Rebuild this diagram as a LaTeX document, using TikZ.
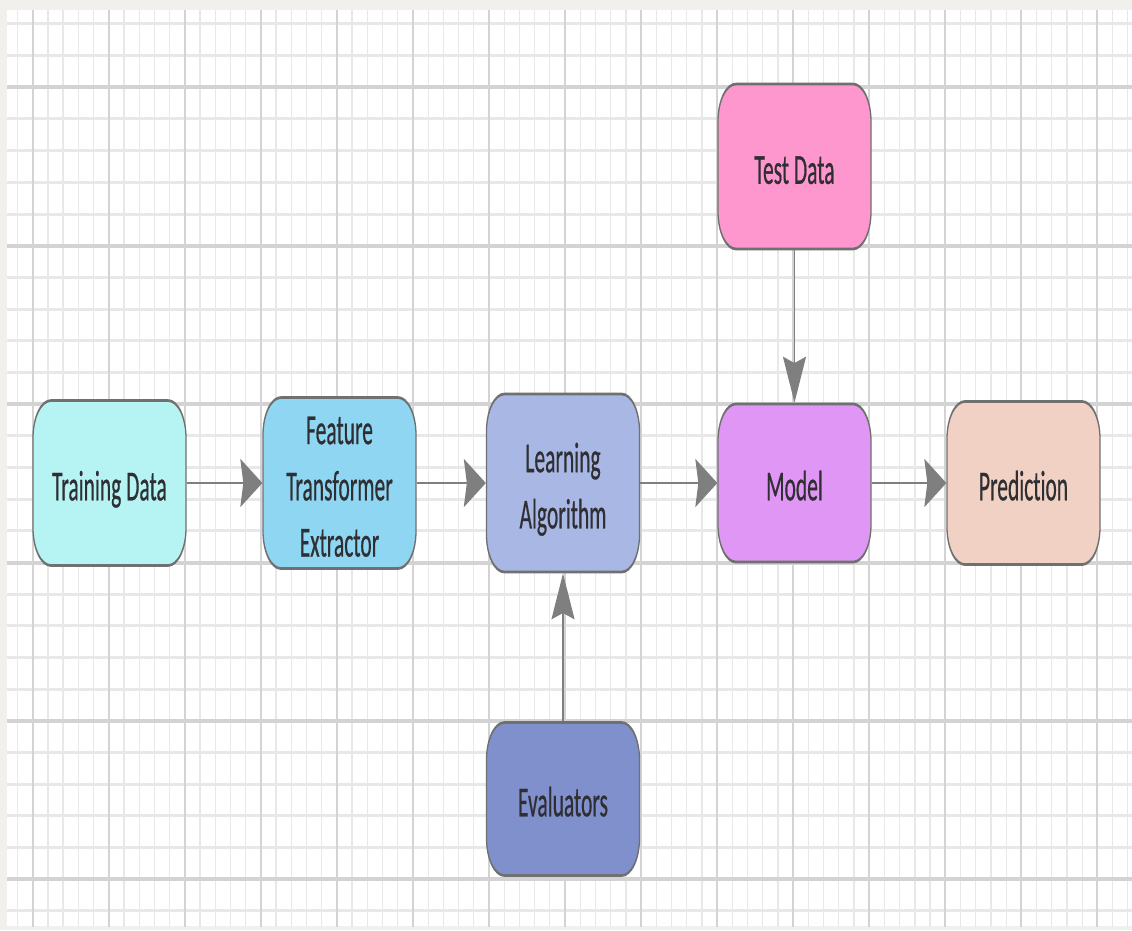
\documentclass[tikz,border=0pt]{standalone}
\usepackage{fontspec}
\setmainfont{Carlito}[FakeStretch=1.05, FakeBold=0.7, Ligatures=NoCommon]
\usetikzlibrary{arrows.meta}

\definecolor{paper}{HTML}{F2F0EC}
\definecolor{gridminor}{HTML}{E8E8E8}
\definecolor{gridmajor}{HTML}{D3D3D3}
\definecolor{boxline}{HTML}{707070}
\definecolor{arrowgray}{HTML}{7F7F7F}
\definecolor{textgray}{HTML}{2E2E33}
\definecolor{trainfill}{HTML}{B6F4F4}
\definecolor{featfill}{HTML}{8ED6F1}
\definecolor{learnfill}{HTML}{A8B7E3}
\definecolor{modelfill}{HTML}{E096F4}
\definecolor{predfill}{HTML}{F0D1C4}
\definecolor{evalfill}{HTML}{7F90CC}
\definecolor{testfill}{HTML}{FE97CE}

% label text: centred lines, set a little below the middle of the box
% (the box keeps its natural height and depth, only the ink moves down)
\newcommand{\boxlines}[1]{\raisebox{-2.9pt}[\height][\depth]{\begin{tabular}{@{}c@{}}#1\end{tabular}}}

\tikzset{
  vminor/.style={draw=gridminor, line width=1.3pt},
  vmajor/.style={draw=gridmajor, line width=2pt},
  hminor/.style={draw=gridminor, line width=3pt},
  hmajor/.style={draw=gridmajor, line width=4pt},
  box/.style={rectangle, rounded corners=18pt, draw=boxline, line width=1.3pt,
    minimum width=153pt, inner sep=0pt,
    font=\fontsize{20.5}{27}\selectfont, text=textgray},
  flow/.style={draw=arrowgray, line width=1.4pt,
    -{Stealth[length=22pt, width=23pt, inset=3pt]}},
}

\begin{document}
\begin{tikzpicture}[x=1pt, y=-1pt]
  \useasboundingbox (0,0) rectangle (1132,930);
  % sheet and its margin
  \fill[paper] (0,0) rectangle (1132,930);
  \fill[white] (7,10) rectangle (1132,926);

  % graph paper
  \begin{scope}
    \clip (7,10) rectangle (1132,926);
    \foreach \k in {-2,...,72} {
      \pgfmathsetmacro\gx{32.7+15.21*\k}
      \draw[vminor] (\gx,0) -- (\gx,930);
    }
    \foreach \k in {-3,...,26} {
      \pgfmathsetmacro\gy{87.3+31.68*\k}
      \draw[hminor] (0,\gy) -- (1132,\gy);
    }
    \foreach \k in {0,...,14} {
      \pgfmathsetmacro\gx{32.7+76.05*\k}
      \draw[vmajor] (\gx,0) -- (\gx,930);
    }
    \foreach \k in {0,...,5} {
      \pgfmathsetmacro\gy{87.3+158.4*\k}
      \draw[hmajor] (0,\gy) -- (1132,\gy);
    }
  \end{scope}

  % flow chart, drawn in a vertically stretched frame
  \begin{scope}[transform canvas={yscale=2.083}, y=-0.48008pt]
    \node[box, fill=trainfill, minimum height=79.2pt] (train) at (109.5,483) {\boxlines{Training Data}};
    \node[box, fill=featfill, minimum height=82.1pt] (feat) at (339.5,483) {\boxlines{Feature\\Transformer\\Extractor}};
    \node[box, fill=learnfill, minimum height=85.5pt] (learn) at (563,483) {\boxlines{Learning\\Algorithm}};
    \node[box, fill=modelfill, minimum height=75.9pt] (model) at (794.5,483) {\boxlines{Model}};
    \node[box, fill=predfill, minimum height=78.3pt] (pred) at (1023.5,483) {\boxlines{Prediction}};
    \node[box, fill=testfill, minimum height=79.2pt] (test) at (794.5,166.5) {\boxlines{Test Data}};
    \node[box, fill=evalfill, minimum height=73.5pt] (eval) at (563,799) {\boxlines{Evaluators}};

    \draw[flow] (train.east) -- (feat.west);
    \draw[flow] (feat.east) -- (learn.west);
    \draw[flow] (learn.east) -- (model.west);
    \draw[flow] (model.east) -- (pred.west);
    \draw[flow] (test.south) -- (model.north);
    \draw[flow] (eval.north) -- (learn.south);
  \end{scope}
\end{tikzpicture}
\end{document}
